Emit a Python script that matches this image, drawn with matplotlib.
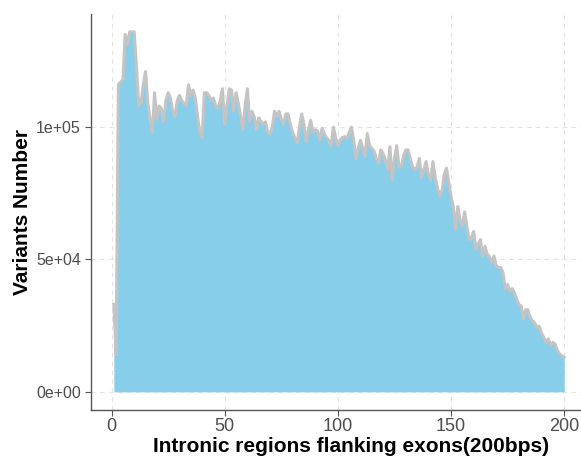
import numpy as np
import matplotlib
matplotlib.use("Agg")
import matplotlib.pyplot as plt

# Position along the flanking intron (1..200 bp)
positions = np.arange(1, 201)

# Variant counts per position, in thousands
counts_k = [
    33, 14, 116, 117, 118, 135, 131, 136, 136, 136,
    123, 108, 109, 116, 121, 109, 103, 98, 113, 103,
    108, 107, 102, 110, 113, 111, 106, 104, 110, 112,
    110, 109, 108, 116, 112, 114, 111, 104, 98, 96,
    113, 113, 112, 110, 111, 108, 107, 110, 114.5, 101,
    108, 114.5, 114, 106, 113, 109, 104, 99, 108, 114.5,
    102, 106, 104, 99, 103.5, 102, 101, 102, 98, 97.5,
    100, 106, 104, 106, 103, 101, 105, 105, 101, 98,
    96, 94, 100, 105, 101, 94.5, 99, 102.6, 98, 99,
    98.5, 95, 99.5, 97.5, 96, 95, 92.6, 100, 96, 93,
    95, 96, 96.4, 95.6, 98, 100, 95, 88, 92, 95,
    92, 89, 97.6, 93, 92, 91, 88, 86.4, 91.4, 90,
    87.6, 83.8, 92.6, 80, 88, 93, 85, 85, 89, 91.4,
    91.4, 88, 85, 83.8, 85, 88.2, 81, 84, 87, 82,
    80, 87, 81, 77, 74, 76, 82, 84.5, 79, 73.8,
    70, 61.3, 70, 65, 62.5, 68, 62.5, 57.5, 58, 60.6,
    53.8, 56, 57.5, 51.3, 55, 52, 51, 48.8, 51.3, 47.6,
    47, 46.9, 45, 38.7, 40.6, 38, 39, 37.5, 35, 33,
    32.4, 27.4, 31, 31, 28, 26.8, 26, 24.3, 24.8, 22,
    20.6, 18.8, 20, 17.5, 18.7, 18, 15.6, 14.3, 13.6, 13,
]
counts = np.array(counts_k) * 1000

x_ticks = [0, 50, 100, 150, 200]
y_ticks = [0, 50000, 100000]
y_tick_labels = ["0e+00", "5e+04", "1e+05"]

plt.rcParams["font.family"] = ["Liberation Sans", "DejaVu Sans"]

fig = plt.figure(figsize=(5.81, 4.61), dpi=100)
ax = fig.add_axes([0.157, 0.111, 0.853, 0.859])

ax.fill_between(positions, 0, counts, color="#87CEEB", linewidth=0, zorder=2)
ax.plot(positions, counts, color="#c4c4c4", linewidth=2.2, zorder=3)

ax.set_xlim(-9, 210)
ax.set_ylim(-6800, 142800)
ax.set_xticks(x_ticks)
ax.set_yticks(y_ticks)
ax.set_yticklabels(y_tick_labels)

ax.grid(True, color="#e3e3e3", linestyle=(0, (4, 4)), linewidth=0.8, zorder=0)
ax.set_axisbelow(True)

for side in ["top", "right"]:
    ax.spines[side].set_visible(False)
for side in ["left", "bottom"]:
    ax.spines[side].set_color("#555555")
    ax.spines[side].set_linewidth(1.0)

ax.tick_params(axis="both", colors="#555555", length=4, width=0.8,
               labelsize=11.5, labelcolor="#4d4d4d")
ax.tick_params(axis="x", labelsize=13, pad=2)

ax.set_xlabel("Intronic regions flanking exons(200bps)", fontsize=15,
              fontweight="bold", color="black")
ax.set_ylabel("Variants Number", fontsize=15, fontweight="bold",
              color="black")
ax.xaxis.set_label_coords(0.524, -0.068)
ax.yaxis.set_label_coords(-0.12, 0.5)

fig.savefig("out.png", dpi=100)
plt.close(fig)
